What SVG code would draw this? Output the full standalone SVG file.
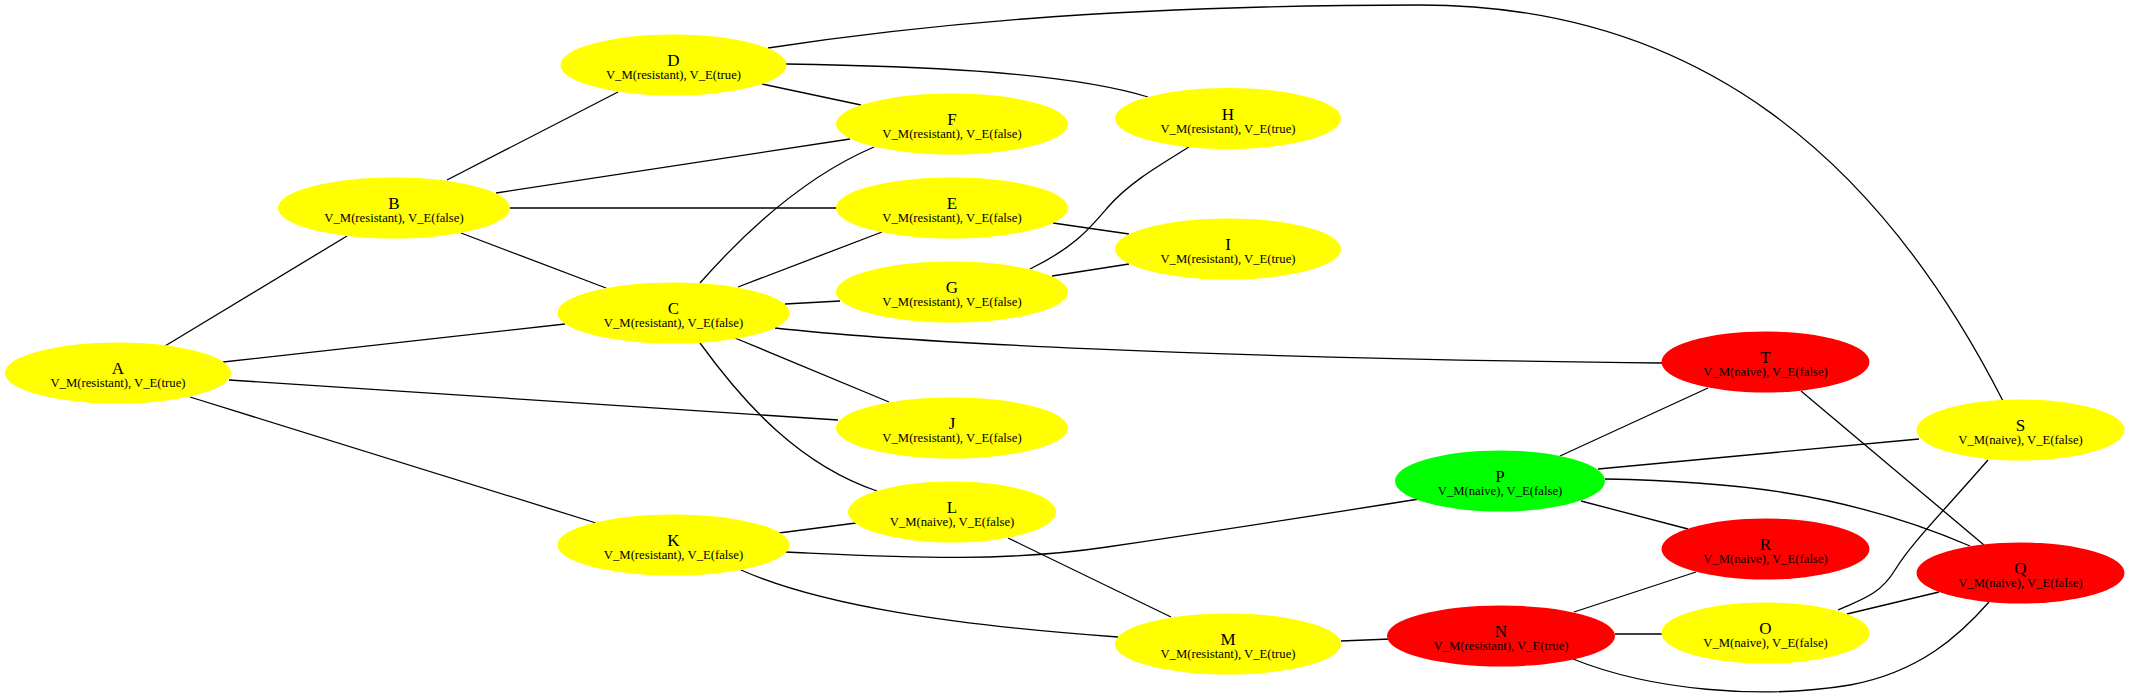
<svg xmlns="http://www.w3.org/2000/svg" width="2130" height="697" viewBox="0 0 2130 697">
<style>
.e{fill:none;stroke:#000;stroke-width:1.3}
.y{fill:#ffff00}
.r{fill:#ff0000}
.g{fill:#00ff00}
.n{font-family:"Liberation Serif","Times New Roman",serif;font-size:17px;text-anchor:middle;fill:#000}
.s{font-family:"Liberation Serif","Times New Roman",serif;font-size:12.7px;text-anchor:middle;fill:#000}
</style>
<rect width="2130" height="697" fill="#fff"/>
<g id="edges">
<path class="e" d="M165,346 L347,236"/>
<path class="e" d="M223,362 L565,324"/>
<path class="e" d="M229,380 L838,420"/>
<path class="e" d="M190,397 L596,523"/>
<path class="e" d="M447,180 L618,92"/>
<path class="e" d="M496,193 L850,139"/>
<path class="e" d="M509,208 L836,208"/>
<path class="e" d="M461,233 L606,288"/>
<path class="e" d="M762,84 L861,105"/>
<path class="e" d="M786,64 C900,66 1060,70 1148,97"/>
<path class="e" d="M768,48 C900,28 1100,5 1420,5 C1700,5 1880,160 2003,401"/>
<path class="e" d="M874,147 C820,170 760,215 700,283"/>
<path class="e" d="M1053,223 L1129,234"/>
<path class="e" d="M882,232 L738,287"/>
<path class="e" d="M840,301 L785,304"/>
<path class="e" d="M1030,269 C1075,247 1090,228 1108,207 C1130,182 1160,165 1189,147"/>
<path class="e" d="M1052,276 L1129,264"/>
<path class="e" d="M775,328 C900,342 1200,358 1662,363"/>
<path class="e" d="M735,338 L889,402"/>
<path class="e" d="M700,343 C745,405 800,465 877,491"/>
<path class="e" d="M779,533 L856,523"/>
<path class="e" d="M786,552 C900,557 1000,563 1107,547 C1250,526 1350,510 1419,499"/>
<path class="e" d="M741,570 C820,605 950,625 1118,637"/>
<path class="e" d="M1008,538 L1171,617"/>
<path class="e" d="M1341,641 L1390,639"/>
<path class="e" d="M1560,456 L1708,388"/>
<path class="e" d="M1598,469 L1919,439"/>
<path class="e" d="M1581,501 L1688,529"/>
<path class="e" d="M1605,479 C1720,481 1840,490 1970,546"/>
<path class="e" d="M1801,391 L1984,545"/>
<path class="e" d="M1988,460 C1940,515 1910,545 1895,570 C1880,595 1860,600 1838,610"/>
<path class="e" d="M1847,614 L1939,592"/>
<path class="e" d="M1574,612 L1696,572"/>
<path class="e" d="M1615,634 L1662,634"/>
<path class="e" d="M1573,659 C1650,690 1760,700 1850,685 C1920,672 1960,635 1989,602"/>
</g>
<g id="A"><ellipse class="y" cx="118" cy="373" rx="113" ry="30.5"/><text class="n" x="118" y="374">A</text><text class="s" x="118" y="387">V_M(resistant), V_E(true)</text></g>
<g id="B"><ellipse class="y" cx="394" cy="208" rx="116" ry="30.5"/><text class="n" x="394" y="209">B</text><text class="s" x="394" y="222">V_M(resistant), V_E(false)</text></g>
<g id="C"><ellipse class="y" cx="673.5" cy="313" rx="116" ry="30.5"/><text class="n" x="673.5" y="314">C</text><text class="s" x="673.5" y="327">V_M(resistant), V_E(false)</text></g>
<g id="D"><ellipse class="y" cx="673.5" cy="65" rx="113" ry="30.5"/><text class="n" x="673.5" y="66">D</text><text class="s" x="673.5" y="79">V_M(resistant), V_E(true)</text></g>
<g id="E"><ellipse class="y" cx="952" cy="208" rx="116" ry="30.5"/><text class="n" x="952" y="209">E</text><text class="s" x="952" y="222">V_M(resistant), V_E(false)</text></g>
<g id="F"><ellipse class="y" cx="952" cy="124" rx="116" ry="30.5"/><text class="n" x="952" y="125">F</text><text class="s" x="952" y="138">V_M(resistant), V_E(false)</text></g>
<g id="G"><ellipse class="y" cx="952" cy="292" rx="116" ry="30.5"/><text class="n" x="952" y="293">G</text><text class="s" x="952" y="306">V_M(resistant), V_E(false)</text></g>
<g id="H"><ellipse class="y" cx="1228" cy="118.5" rx="113" ry="30.5"/><text class="n" x="1228" y="119.5">H</text><text class="s" x="1228" y="132.5">V_M(resistant), V_E(true)</text></g>
<g id="I"><ellipse class="y" cx="1228" cy="249" rx="113" ry="30.5"/><text class="n" x="1228" y="250">I</text><text class="s" x="1228" y="263">V_M(resistant), V_E(true)</text></g>
<g id="J"><ellipse class="y" cx="952" cy="428" rx="116" ry="30.5"/><text class="n" x="952" y="429">J</text><text class="s" x="952" y="442">V_M(resistant), V_E(false)</text></g>
<g id="K"><ellipse class="y" cx="673.5" cy="545" rx="116" ry="30.5"/><text class="n" x="673.5" y="546">K</text><text class="s" x="673.5" y="559">V_M(resistant), V_E(false)</text></g>
<g id="L"><ellipse class="y" cx="952" cy="512" rx="104" ry="30.5"/><text class="n" x="952" y="513">L</text><text class="s" x="952" y="526">V_M(naive), V_E(false)</text></g>
<g id="M"><ellipse class="y" cx="1228" cy="644" rx="113" ry="30.5"/><text class="n" x="1228" y="645">M</text><text class="s" x="1228" y="658">V_M(resistant), V_E(true)</text></g>
<g id="N"><ellipse class="r" cx="1501" cy="636" rx="114" ry="30.5"/><text class="n" x="1501" y="637">N</text><text class="s" x="1501" y="650">V_M(resistant), V_E(true)</text></g>
<g id="O"><ellipse class="y" cx="1765.5" cy="633" rx="104" ry="30.5"/><text class="n" x="1765.5" y="634">O</text><text class="s" x="1765.5" y="647">V_M(naive), V_E(false)</text></g>
<g id="P"><ellipse class="g" cx="1500" cy="481" rx="105" ry="30.5"/><text class="n" x="1500" y="482">P</text><text class="s" x="1500" y="495">V_M(naive), V_E(false)</text></g>
<g id="Q"><ellipse class="r" cx="2020.5" cy="573" rx="104" ry="30.5"/><text class="n" x="2020.5" y="574">Q</text><text class="s" x="2020.5" y="587">V_M(naive), V_E(false)</text></g>
<g id="R"><ellipse class="r" cx="1765.5" cy="549" rx="104" ry="30.5"/><text class="n" x="1765.5" y="550">R</text><text class="s" x="1765.5" y="563">V_M(naive), V_E(false)</text></g>
<g id="S"><ellipse class="y" cx="2020.5" cy="430" rx="104" ry="30.5"/><text class="n" x="2020.5" y="431">S</text><text class="s" x="2020.5" y="444">V_M(naive), V_E(false)</text></g>
<g id="T"><ellipse class="r" cx="1765.5" cy="362" rx="104" ry="30.5"/><text class="n" x="1765.5" y="363">T</text><text class="s" x="1765.5" y="376">V_M(naive), V_E(false)</text></g>
</svg>
